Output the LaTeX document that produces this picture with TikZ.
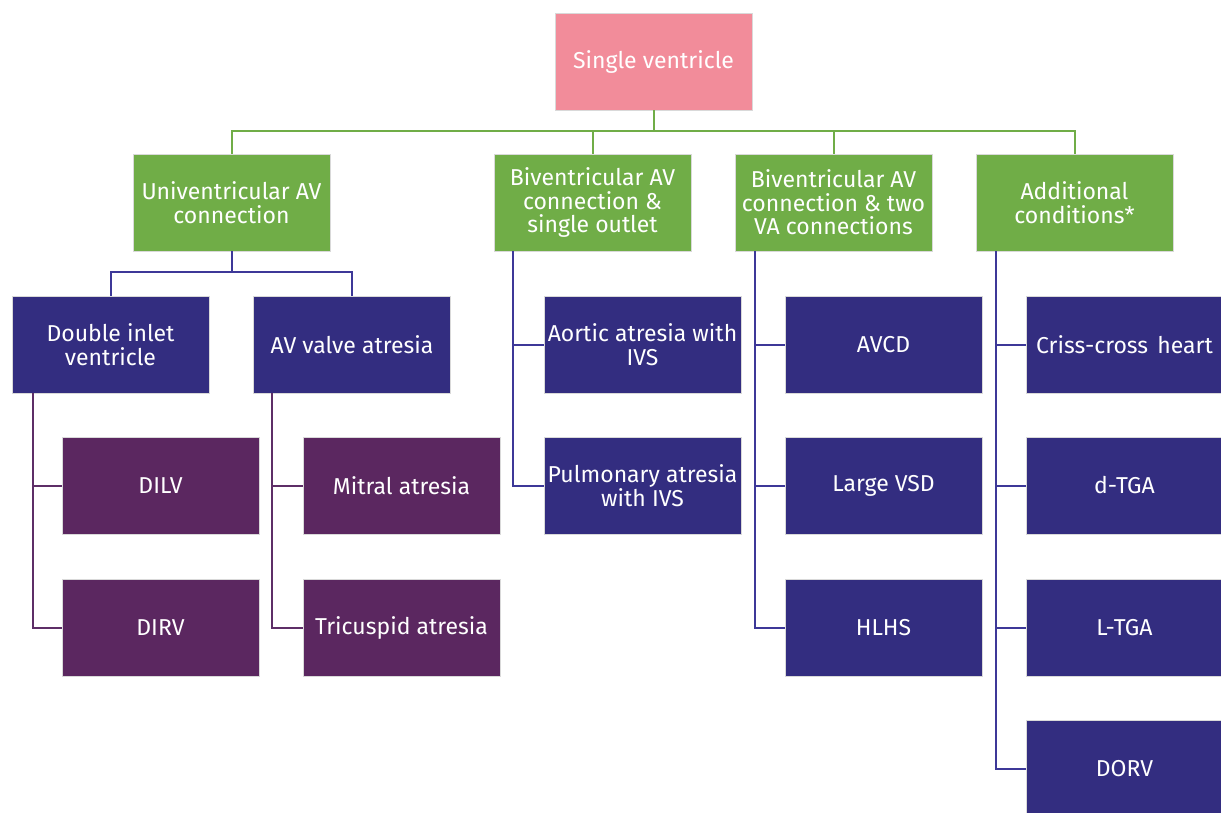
\documentclass[tikz,border=0pt]{standalone}
\usepackage{fontspec}
\setmainfont{Fira Sans}
\definecolor{cpink}{HTML}{F28C9A}
\definecolor{cgreen}{HTML}{70AD47}
\definecolor{cblue}{HTML}{332D80}
\definecolor{cpurple}{HTML}{5B2760}
\definecolor{lblue}{HTML}{3D3898}
\definecolor{lpurple}{HTML}{5E2E67}
\begin{document}
\begin{tikzpicture}[x=1pt,y=-1pt,
  box/.style={rectangle, minimum width=197pt, minimum height=97pt, inner sep=2pt,
    draw=white!85!black, line width=0.6pt, text=white, align=center,
    font=\fontsize{23}{23.5}\selectfont},
  pinkbox/.style={box, fill=cpink},
  greenbox/.style={box, fill=cgreen},
  bluebox/.style={box, fill=cblue},
  purplebox/.style={box, fill=cpurple},
  gline/.style={draw=cgreen, line width=2pt},
  bline/.style={draw=lblue, line width=2pt},
  pline/.style={draw=lpurple, line width=2pt}]
\useasboundingbox (0,0) rectangle (1221,813);
\fill[white] (0,0) rectangle (1221,813);
% level 0
\node[pinkbox] (sv) at (653.5,61.5) {Single ventricle};
% level 1
\node[greenbox] (g1) at (231.5,202.5) {Univentricular AV\\connection};
\node[greenbox] (g2) at (592.5,202.5) {Biventricular AV\\connection \&\\single outlet};
\node[greenbox] (g3) at (833.5,202.5) {Biventricular AV\\connection \& two\\VA connections};
\node[greenbox] (g4) at (1074.5,202.5) {Additional\\conditions*};
% level 2
\node[bluebox] (dbl) at (110.5,344.5) {Double inlet\\ventricle};
\node[bluebox] (avv) at (352,344.5) {AV valve atresia};
\node[bluebox] (aor) at (642.5,344.5) {Aortic atresia with\\IVS};
\node[bluebox] (avcd) at (883.5,344.5) {AVCD};
\node[bluebox] (cc) at (1124.5,344.5) {Criss-cross\hspace{0.4em}heart};
% level 3
\node[purplebox] (dilv) at (160.5,485.5) {DILV};
\node[purplebox] (mit) at (401.5,485.5) {Mitral atresia};
\node[bluebox] (pul) at (642.5,485.5) {Pulmonary atresia\\with IVS};
\node[bluebox] (vsd) at (883.5,485.5) {Large VSD};
\node[bluebox] (dtga) at (1124.5,485.5) {d-TGA};
% level 4
\node[purplebox] (dirv) at (160.5,627.5) {DIRV};
\node[purplebox] (tri) at (401.5,627.5) {Tricuspid atresia};
\node[bluebox] (hlhs) at (883.5,627.5) {HLHS};
\node[bluebox] (ltga) at (1124.5,627.5) {L-TGA};
% level 5
\node[bluebox] (dorv) at (1124.5,768.5) {DORV};
% connectors level 0 -> 1
\coordinate (hub) at (653.5,131);
\draw[gline] (sv.south) -- (hub);
\draw[gline] (hub) -| (g1.north);
\draw[gline] (hub) -| (g2.north);
\draw[gline] (hub) -| (g3.north);
\draw[gline] (hub) -| (g4.north);
% univentricular -> children
\coordinate (uhub) at (231.5,272);
\draw[bline] (g1.south) -- (uhub);
\draw[bline] (uhub) -| (dbl.north);
\draw[bline] (uhub) -| (avv.north);
% brackets
\draw[pline] ([xshift=21pt]dbl.south west) |- (dilv.west);
\draw[pline] ([xshift=21pt]dbl.south west) |- (dirv.west);
\draw[pline] ([xshift=18.5pt]avv.south west) |- (mit.west);
\draw[pline] ([xshift=18.5pt]avv.south west) |- (tri.west);
\draw[bline] ([xshift=19pt]g2.south west) |- (aor.west);
\draw[bline] ([xshift=19pt]g2.south west) |- (pul.west);
\draw[bline] ([xshift=20pt]g3.south west) |- (avcd.west);
\draw[bline] ([xshift=20pt]g3.south west) |- (vsd.west);
\draw[bline] ([xshift=20pt]g3.south west) |- (hlhs.west);
\draw[bline] ([xshift=20pt]g4.south west) |- (cc.west);
\draw[bline] ([xshift=20pt]g4.south west) |- (dtga.west);
\draw[bline] ([xshift=20pt]g4.south west) |- (ltga.west);
\draw[bline] ([xshift=20pt]g4.south west) |- (dorv.west);
\end{tikzpicture}
\end{document}
